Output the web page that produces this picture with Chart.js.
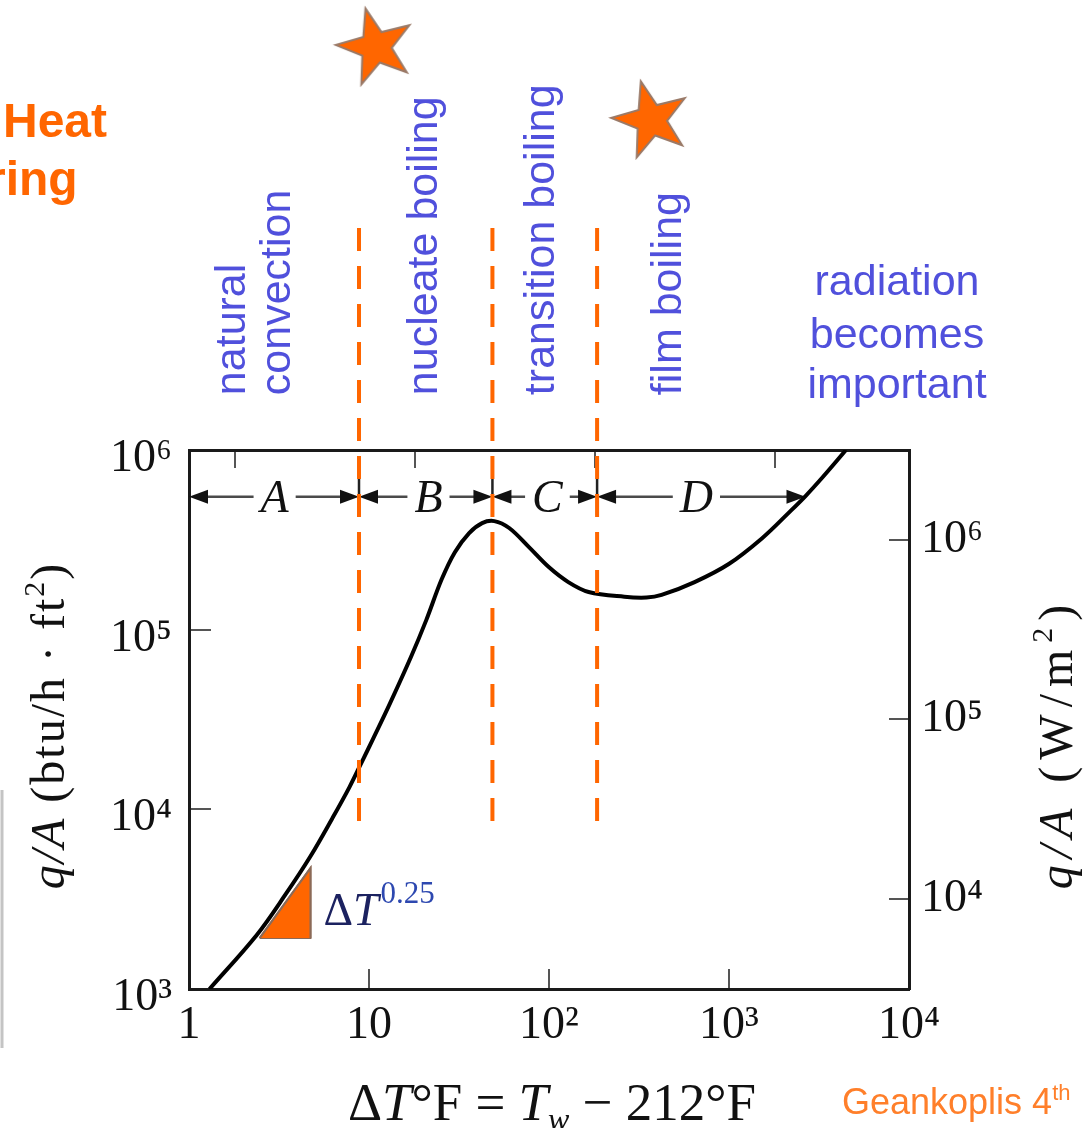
<!DOCTYPE html>
<html>
<head>
<meta charset="utf-8">
<script src="https://cdn.jsdelivr.net/npm/chart.js@4.4.1/dist/chart.umd.min.js"></script>
<style>
  html, body { margin: 0; padding: 0; background: #fff; }
  canvas { display: block; }
</style>
</head>
<body>
<canvas id="boiling" width="1084" height="1128"></canvas>
<script>
// boiling curve of water at 1 atm
const deltaT = [1.3, 2.38, 3.43, 4.74, 6.25, 7.79, 9.23, 10.5, 13.1, 17.1, 20.8, 25.3, 30.0, 36.0,
  42.5, 49.7, 60.1, 77.4, 99.7, 128, 166, 262, 348, 422, 644, 997, 1528, 2165, 2661, 3320, 4467];
const heatFlux = [1000, 2000, 3350, 5500, 8900, 13300, 18800, 24500, 39000, 70400, 113000, 190000, 270000, 345000,
  392000, 402000, 368000, 288000, 223000, 184000, 162000, 152500, 151000, 156000, 184000, 232000, 323000, 451000, 554000, 707000, 1000000];

// regime boundaries (orange dashed) and the A-D dimension arrows
const dividerT = [8.8, 48.5, 185];
const dividerFlux = [1.72e7, 8200];
const regionEdges = [1, 8.8, 48.5, 185, 2660];
const regionLetters = ['A', 'B', 'C', 'D'];
const regionLetterT = [2.99, 21.4, 98, 659];
const arrowFlux = 550000;

// slope triangle
const slopeT = [2.47, 4.73, 4.73];
const slopeFlux = [1920, 4710, 1920];
const slopeLabelT = 5.58;
const slopeLabelFlux = 2270;

// labels and stars above the plot
const regimeLabels = ['natural', 'convection', 'nucleate boiling', 'transition boiling', 'film boiling'];
const regimeLabelT = [2.05, 3.64, 23.9, 107, 538];
const regimeLabelFlux = 2.02e6;
const radiationLines = ['radiation', 'becomes', 'important'];
const radiationT = 8580;
const radiationFlux = [7.3e6, 3.7e6, 1.95e6];
const starT = [10.9, 369];
const starFlux = [1.75e8, 6.87e7];

// axes
const xTicks = [1, 10, 100, 1000, 10000];
const xTickLabels = ['1', '10', '10²', '10³', '10⁴'];
const yTicks = [1e3, 1e4, 1e5, 1e6];
const yTickLabels = ['10³', '10⁴', '10⁵', '10⁶'];
const siTicks = [1e4, 1e5, 1e6];
const siTickLabels = ['10⁴', '10⁵', '10⁶'];
const celsiusTicks = [1, 10, 100, 1000];
const BTU_TO_SI = 3.1546;

const SERIF = '"Liberation Serif", "DejaVu Serif", serif';
const SANS = '"Liberation Sans", Arial, sans-serif';
const BLUE = '#5050dc';
const ORANGE = '#ff6600';
const INK = '#111';

function pts(xs, ys) {
  return xs.map((v, i) => ({ x: v, y: Array.isArray(ys) ? ys[i] : ys }));
}

function makeStar(r) {
  const c = document.createElement('canvas');
  c.width = c.height = Math.ceil(r * 2 + 8);
  const g = c.getContext('2d');
  g.translate(c.width / 2, c.height / 2);
  g.rotate(-0.26);
  g.beginPath();
  for (let i = 0; i < 10; i++) {
    const rr = i % 2 ? r * 0.4 : r;
    const a = -Math.PI / 2 + i * Math.PI / 5;
    g.lineTo(rr * Math.cos(a), rr * Math.sin(a));
  }
  g.closePath();
  g.fillStyle = ORANGE;
  g.fill();
  g.strokeStyle = '#9a7a68';
  g.lineWidth = 2;
  g.stroke();
  return c;
}

function arrowHead(ctx, tip, y, dir) {
  ctx.beginPath();
  ctx.moveTo(tip, y);
  ctx.lineTo(tip - dir * 19, y - 7);
  ctx.lineTo(tip - dir * 19, y + 7);
  ctx.closePath();
  ctx.fill();
}

// text made of runs: [text, font, dy]
function runsWidth(ctx, runs) {
  return runs.reduce((w, r) => { ctx.font = r[1]; return w + ctx.measureText(r[0]).width; }, 0);
}
function drawRuns(ctx, runs, x, y) {
  let cx = x;
  runs.forEach(([text, font, dy]) => {
    ctx.font = font;
    ctx.fillText(text, cx, y + (dy || 0));
    cx += ctx.measureText(text).width;
  });
}

const decades = (list) => (scale) => { scale.ticks = list.map((v) => ({ value: v })); };
const tickLabel = (vals, labels) => (v) => labels[vals.indexOf(v)] ?? '';

const star = makeStar(40);

const annotations = {
  id: 'annotations',
  beforeDatasetsDraw(chart) {
    const { ctx, scales: { x, y } } = chart;
    const yA = y.getPixelForValue(arrowFlux);
    ctx.save();
    ctx.font = `italic 46px ${SERIF}`;
    ctx.textAlign = 'center';
    ctx.fillStyle = INK;
    regionLetters.forEach((letter, i) => {
      const x0 = x.getPixelForValue(regionEdges[i]);
      const x1 = x.getPixelForValue(regionEdges[i + 1]);
      const xl = x.getPixelForValue(regionLetterT[i]);
      const half = ctx.measureText(letter).width / 2 + 7;
      ctx.beginPath();
      ctx.moveTo(x0 + 6, yA);
      ctx.lineTo(xl - half, yA);
      ctx.moveTo(xl + half, yA);
      ctx.lineTo(x1 - 6, yA);
      ctx.strokeStyle = '#4a4a4a';
      ctx.lineWidth = 2.5;
      ctx.stroke();
      arrowHead(ctx, x0, yA, -1);
      arrowHead(ctx, x1, yA, 1);
      ctx.fillText(letter, xl, yA + 15);
    });
    ctx.beginPath();
    regionEdges.slice(1, -1).forEach((t) => {
      const px = x.getPixelForValue(t);
      ctx.moveTo(px, yA - 18);
      ctx.lineTo(px, yA + 18);
    });
    ctx.strokeStyle = '#222';
    ctx.lineWidth = 2.5;
    ctx.stroke();

    // slope label
    const sx = x.getPixelForValue(slopeLabelT);
    const sy = y.getPixelForValue(slopeLabelFlux);
    const base = [['Δ', `46px ${SERIF}`], ['T', `italic 46px ${SERIF}`]];
    const bw = runsWidth(ctx, base);
    ctx.textAlign = 'left';
    ctx.fillStyle = '#1c2260';
    drawRuns(ctx, base, sx, sy);
    ctx.fillStyle = '#2d48b0';
    ctx.font = `31px ${SERIF}`;
    ctx.fillText('0.25', sx + bw + 2, sy - 22);
    ctx.restore();
  },
  afterDraw(chart) {
    const { ctx, chartArea: area, scales: { x, y } } = chart;
    ctx.save();
    ctx.textBaseline = 'alphabetic';

    // stars
    starT.forEach((t, i) => {
      ctx.drawImage(star, x.getPixelForValue(t) - star.width / 2, y.getPixelForValue(starFlux[i]) - star.height / 2);
    });

    // regime names, rotated
    ctx.fillStyle = BLUE;
    ctx.font = `43px ${SANS}`;
    ctx.textAlign = 'left';
    const y0 = y.getPixelForValue(regimeLabelFlux);
    regimeLabels.forEach((label, i) => {
      ctx.save();
      ctx.translate(x.getPixelForValue(regimeLabelT[i]), y0);
      ctx.rotate(-Math.PI / 2);
      ctx.fillText(label, 0, 0);
      ctx.restore();
    });
    ctx.textAlign = 'center';
    radiationLines.forEach((line, i) => {
      ctx.fillText(line, x.getPixelForValue(radiationT), y.getPixelForValue(radiationFlux[i]));
    });

    // axis titles
    ctx.fillStyle = INK;
    ctx.textAlign = 'left';
    ctx.letterSpacing = '2px';
    const leftRuns = [['q/A', `italic 48px ${SERIF}`], [' (btu/h · ft', `48px ${SERIF}`], ['2', `30px ${SERIF}`, -20], [')', `48px ${SERIF}`]];
    const lw = runsWidth(ctx, leftRuns);
    ctx.save();
    ctx.translate(area.left - 125, (area.top + area.bottom) / 2 + 6 + lw / 2);
    ctx.rotate(-Math.PI / 2);
    drawRuns(ctx, leftRuns, 0, 0);
    ctx.restore();

    ctx.letterSpacing = '7px';
    const rightRuns = [['q/A', `italic 48px ${SERIF}`], [' (W/m', `48px ${SERIF}`], ['2', `30px ${SERIF}`, -20], [')', `48px ${SERIF}`]];
    const rw = runsWidth(ctx, rightRuns);
    ctx.save();
    ctx.translate(area.right + 163, (area.top + area.bottom) / 2 + 24 + rw / 2);
    ctx.rotate(-Math.PI / 2);
    drawRuns(ctx, rightRuns, 0, 0);
    ctx.restore();

    ctx.letterSpacing = '0px';
    const xRuns = [['Δ', `53px ${SERIF}`], ['T', `italic 53px ${SERIF}`], ['°F = ', `53px ${SERIF}`], ['T', `italic 53px ${SERIF}`],
      ['w', `italic 32px ${SERIF}`, 10], [' − 212°F', `53px ${SERIF}`]];
    const xw = runsWidth(ctx, xRuns);
    drawRuns(ctx, xRuns, (area.left + area.right) / 2 + 3 - xw / 2, area.bottom + 131);

    // slide fragments around the figure
    ctx.fillStyle = ORANGE;
    ctx.font = `bold 48px ${SANS}`;
    ctx.fillText('Heat', 3, 137);
    ctx.fillText('ring', -13, 195);
    ctx.fillStyle = '#ff7f2a';
    drawRuns(ctx, [['Geankoplis 4', `36px ${SANS}`], ['th', `22px ${SANS}`, -14]], 842, 1114);
    ctx.strokeStyle = '#c4c4c4';
    ctx.lineWidth = 3;
    ctx.beginPath();
    ctx.moveTo(2, 790);
    ctx.lineTo(2, 1048);
    ctx.stroke();
    ctx.restore();
  },
};

const dividerSets = dividerT.map((t) => ({
  data: pts([t, t], dividerFlux),
  borderColor: ORANGE,
  borderWidth: 4,
  borderDash: [23, 15],
  pointRadius: 0,
  fill: false,
  clip: false,
}));

const axisGrid = { drawOnChartArea: false, color: '#555', lineWidth: 2, tickLength: -20 };
const axisBorder = { color: '#1a1a1a', width: 3 };
const tickFont = { family: SERIF, size: 46 };

new Chart(document.getElementById('boiling'), {
  type: 'line',
  data: {
    datasets: [
      ...dividerSets,
      {
        data: pts(deltaT, heatFlux),
        borderColor: '#000',
        borderWidth: 4,
        tension: 0.35,
        pointRadius: 0,
        fill: false,
      },
      {
        data: pts(slopeT, slopeFlux),
        borderColor: '#8b6a58',
        borderWidth: 2,
        backgroundColor: ORANGE,
        fill: { value: slopeFlux[0] },
        pointRadius: 0,
      },
      {
        data: pts([...slopeT, slopeT[0]], [...slopeFlux, slopeFlux[0]]),
        borderColor: '#8b6a58',
        borderWidth: 2,
        pointRadius: 0,
        fill: false,
      },
    ],
  },
  options: {
    responsive: false,
    animation: false,
    devicePixelRatio: 1,
    layout: { padding: { top: 450, left: 0, right: 0, bottom: 0 } },
    plugins: { legend: { display: false }, tooltip: { enabled: false } },
    scales: {
      x: {
        type: 'logarithmic',
        position: 'bottom',
        min: 1,
        max: 1e4,
        afterBuildTicks: decades(xTicks),
        afterFit: (s) => { s.height = 139; },
        grid: axisGrid,
        border: axisBorder,
        ticks: { font: tickFont, color: INK, padding: 29, maxRotation: 0, autoSkip: false, callback: tickLabel(xTicks, xTickLabels) },
      },
      x2: {
        type: 'logarithmic',
        position: 'top',
        min: 1 / 1.8,
        max: 1e4 / 1.8,
        afterBuildTicks: decades(celsiusTicks),
        afterFit: (s) => { s.height = 0; },
        grid: { ...axisGrid, tickLength: -18 },
        border: axisBorder,
        ticks: { display: false },
      },
      y: {
        type: 'logarithmic',
        position: 'left',
        min: 1e3,
        max: 1e6,
        afterBuildTicks: decades(yTicks),
        afterFit: (s) => { s.width = 189; },
        grid: { ...axisGrid, tickLength: -22 },
        border: axisBorder,
        ticks: { font: tickFont, color: INK, padding: 39, labelOffset: 9, autoSkip: false, callback: tickLabel(yTicks, yTickLabels) },
      },
      y2: {
        type: 'logarithmic',
        position: 'right',
        min: 1e3 * BTU_TO_SI,
        max: 1e6 * BTU_TO_SI,
        afterBuildTicks: decades(siTicks),
        afterFit: (s) => { s.width = 175; },
        grid: axisGrid,
        border: axisBorder,
        ticks: { font: tickFont, color: INK, padding: 32, autoSkip: false, callback: tickLabel(siTicks, siTickLabels) },
      },
    },
  },
  plugins: [annotations],
});
</script>
</body>
</html>
